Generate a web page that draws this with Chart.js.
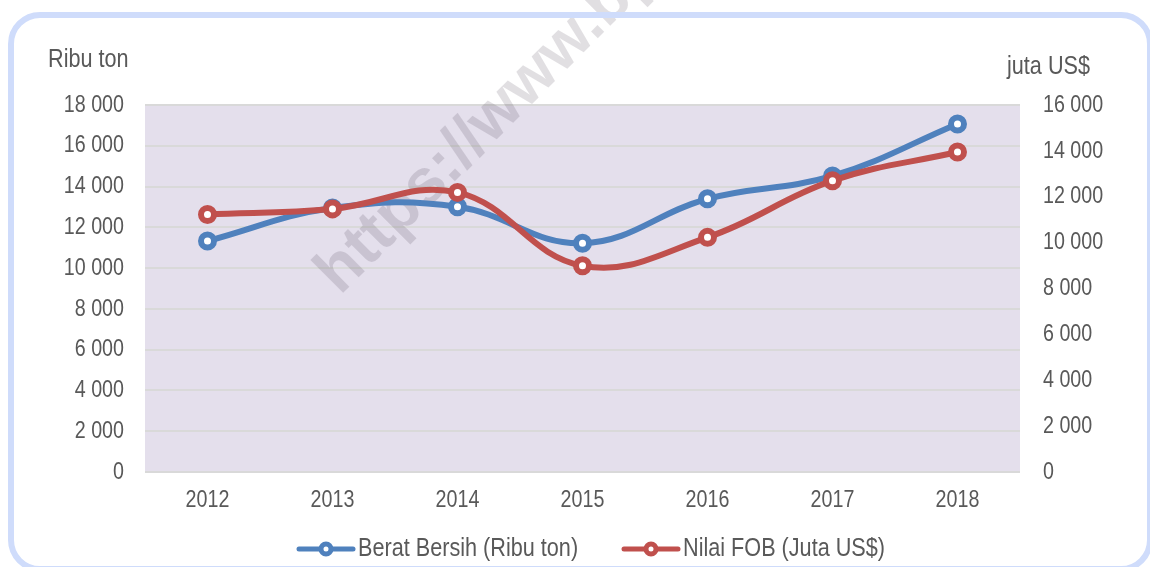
<!DOCTYPE html>
<html>
<head>
<meta charset="utf-8">
<script src="https://cdn.jsdelivr.net/npm/chart.js@4.4.1/dist/chart.umd.min.js"></script>
<style>
  html, body { margin: 0; padding: 0; background: #ffffff; }
  #wrap { position: relative; width: 1150px; height: 567px; overflow: hidden; }
  #frame { position: absolute; left: 8px; top: 12px; width: 1133px; height: 548px;
           border: 6px solid #cfdcfb; border-radius: 32px; pointer-events: none; }
  canvas { position: absolute; left: 0; top: 0; }
</style>
</head>
<body>
<div id="wrap">
  <canvas id="c" width="1150" height="567"></canvas>
  <div id="frame"></div>
</div>
<script>
const years = ['2012', '2013', '2014', '2015', '2016', '2017', '2018'];
const beratBersih = [11330, 12950, 13010, 11220, 13400, 14520, 17070];
const nilaiFOB = [11230, 11470, 12190, 8990, 10230, 12700, 13950];
const leftTitle = 'Ribu ton';
const rightTitle = 'juta US$';
const seriesNames = ['Berat Bersih (Ribu ton)', 'Nilai FOB (Juta US$)'];
const watermark = 'https://www.bps.go.id';

const FONT = "24px 'Liberation Sans', Arial, sans-serif";
const FONT_BIG = "26.4px 'Liberation Sans', Arial, sans-serif";
const NARROW = 0.82;   // Arial Narrow look: Arial squeezed horizontally
const TXT = '#595959';
const BLUE = '#4f81bd';
const RED = '#c0504d';

function fmt(v) {
  return String(v).replace(/\B(?=(\d{3})+(?!\d))/g, ' ');
}

function narrowText(ctx, text, x, y, align) {
  ctx.save();
  ctx.translate(x, y);
  ctx.scale(NARROW, 1);
  ctx.textAlign = align;
  ctx.textBaseline = 'middle';
  ctx.fillText(text, 0, 0);
  ctx.restore();
}

const deco = {
  id: 'deco',
  beforeDraw(chart) {
    const {ctx, chartArea: a} = chart;
    ctx.save();
    ctx.fillStyle = '#e4dfec';
    ctx.fillRect(a.left, a.top, a.right - a.left, a.bottom - a.top);
    ctx.restore();
  },
  beforeDatasetsDraw(chart) {
    const ctx = chart.ctx;
    ctx.save();
    ctx.translate(340, 296);
    ctx.rotate(-45 * Math.PI / 180);
    ctx.font = "bold 64px 'Liberation Sans', Arial, sans-serif";
    ctx.fillStyle = 'rgba(40,30,50,0.14)';
    ctx.textBaseline = 'alphabetic';
    ctx.fillText(watermark, 0, 0);
    ctx.restore();
  },
  afterDraw(chart) {
    const ctx = chart.ctx;
    const sx = chart.scales.x, sy = chart.scales.y, sy1 = chart.scales.y1;
    ctx.save();
    ctx.fillStyle = TXT;
    ctx.font = FONT;
    // tick labels from the library's scales
    sx.ticks.forEach((t, i) => {
      narrowText(ctx, String(chart.data.labels[t.value]), sx.getPixelForTick(i), 500, 'center');
    });
    sy.ticks.forEach(t => {
      narrowText(ctx, fmt(t.value), 124, sy.getPixelForValue(t.value), 'right');
    });
    sy1.ticks.forEach(t => {
      narrowText(ctx, fmt(t.value), 1043, sy1.getPixelForValue(t.value), 'left');
    });
    // axis titles
    ctx.font = FONT_BIG;
    narrowText(ctx, leftTitle, 48, 60, 'left');
    narrowText(ctx, rightTitle, 1090, 67, 'right');
    // legend
    const items = chart.data.datasets.map(d => ({text: d.label, color: d.borderColor}))
      .sort((p, q) => seriesNames.indexOf(p.text) - seriesNames.indexOf(q.text));
    const y = 549;
    const starts = [297, 622];
    items.forEach((it, i) => {
      const x0 = starts[i];
      ctx.strokeStyle = it.color;
      ctx.lineWidth = 5;
      ctx.lineCap = 'round';
      ctx.beginPath();
      ctx.moveTo(x0 + 2, y);
      ctx.lineTo(x0 + 56, y);
      ctx.stroke();
      ctx.beginPath();
      ctx.arc(x0 + 29, y, 5, 0, Math.PI * 2);
      ctx.fillStyle = '#ffffff';
      ctx.fill();
      ctx.lineWidth = 5;
      ctx.stroke();
      ctx.fillStyle = TXT;
      narrowText(ctx, it.text, x0 + 61, y, 'left');
    });
    ctx.restore();
  }
};

new Chart(document.getElementById('c'), {
  type: 'line',
  data: {
    labels: years,
    datasets: [
      {
        label: seriesNames[0], data: beratBersih, yAxisID: 'y', order: 1,
        borderColor: BLUE, backgroundColor: '#ffffff', borderWidth: 6,
        pointRadius: 6.5, pointBorderWidth: 6, pointBackgroundColor: '#ffffff', pointBorderColor: BLUE,
        tension: 0.4, cubicInterpolationMode: 'default', fill: false
      },
      {
        label: seriesNames[1], data: nilaiFOB, yAxisID: 'y1', order: 0,
        borderColor: RED, backgroundColor: '#ffffff', borderWidth: 6,
        pointRadius: 6.5, pointBorderWidth: 6, pointBackgroundColor: '#ffffff', pointBorderColor: RED,
        tension: 0.4, cubicInterpolationMode: 'default', fill: false
      }
    ]
  },
  options: {
    responsive: false,
    animation: false,
    layout: { padding: { top: 105, left: 0, right: 0, bottom: 0 } },
    plugins: { legend: { display: false }, tooltip: { enabled: false } },
    scales: {
      x: {
        offset: true,
        grid: { display: false },
        border: { display: false },
        ticks: { display: false },
        afterFit(s) { s.height = 95; }
      },
      y: {
        position: 'left', min: 0, max: 18000,
        grid: { color: '#d9d9d9', lineWidth: 2, drawTicks: false },
        border: { display: false },
        ticks: { stepSize: 2000, display: false },
        afterFit(s) { s.width = 145; }
      },
      y1: {
        position: 'right', min: 0, max: 16000,
        grid: { display: false, drawTicks: false },
        border: { display: false },
        ticks: { stepSize: 2000, display: false },
        afterFit(s) { s.width = 130; }
      }
    }
  },
  plugins: [deco]
});
</script>
</body>
</html>
